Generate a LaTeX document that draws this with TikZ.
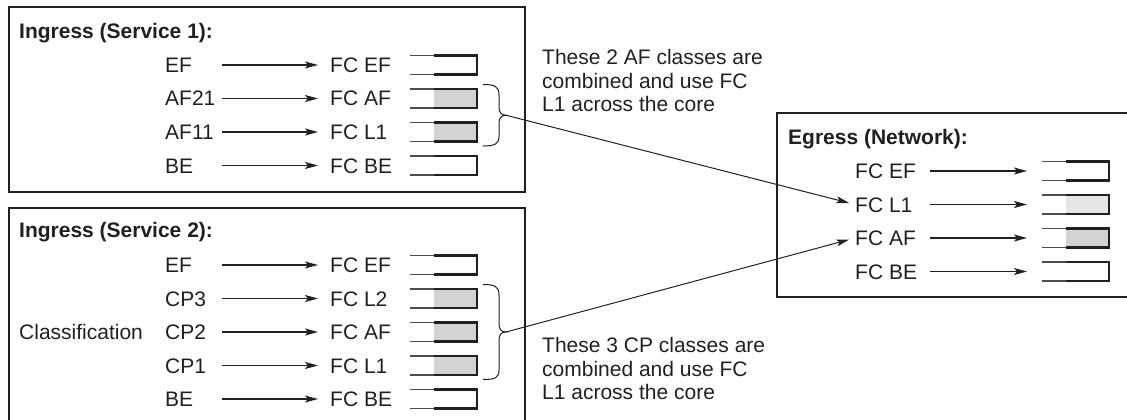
\documentclass[tikz,border=0pt]{standalone}
\usepackage{fontspec}
\setmainfont{Liberation Sans}
\usetikzlibrary{arrows.meta}
\definecolor{ink}{HTML}{231F20}
\definecolor{shadeA}{HTML}{D3D3D3}
\definecolor{shadeB}{HTML}{E6E6E6}
\tikzset{
  box/.style={draw=ink, line width=2pt},
  lbl/.style={inner sep=0pt, anchor=west, text=ink, font=\fontsize{21}{23.5}\selectfont, text height=15pt, text depth=0pt},
  ttl/.style={lbl, font=\fontsize{21}{23.5}\selectfont\bfseries},
  note/.style={inner sep=0pt, anchor=west, align=left, text=ink, font=\fontsize{21}{23.5}\selectfont},
  arr/.style={draw=ink, line width=1.1pt, -{Stealth[length=13pt,width=7pt,inset=3pt]}},
  link/.style={draw=ink, line width=1pt, -{Stealth[length=13pt,width=7pt,inset=3pt]}},
  bracestyle/.style={draw=ink, line width=1pt},
  pics/queue/.style={code={
    \fill[#1] (24,-9.5) rectangle (67,9.5);
    \draw[ink!80, line width=1.9pt] (0,-9.5) -- (24,-9.5) (0,9.5) -- (24,9.5);
    \draw[ink, line width=2.2pt, line join=miter] (24,-9.5) -- (67,-9.5) -- (67,9.5) -- (24,9.5);
  }},
}
\begin{document}
\begin{tikzpicture}[x=1pt, y=-1pt]
\useasboundingbox (0,0) rectangle (1127,420);
% boxes
\draw[box] (9,7) rectangle (525,192);
\draw[box] (9,421) -- (9,208) -- (525,208) -- (525,421);
\draw[box] (1128,297) -- (777,297) -- (777,113) -- (1128,113);

\coordinate (s1) at (222,0);
\coordinate (s2) at (930,0);
\coordinate (t2) at (1027,0);

% Ingress 1
\node[ttl] (t1) at (19,31) {Ingress (Service 1):};
\node[lbl] (a1) at (165,65) {EF};
\node[lbl] (a2) at (165,98.5) {AF21};
\node[lbl] (a3) at (165,132) {AF11};
\node[lbl] (a4) at (165,165.5) {BE};
\node[lbl] (f1) at (330,65) {FC EF};
\node[lbl] (f2) at (330,98.5) {FC AF};
\node[lbl] (f3) at (330,132) {FC L1};
\node[lbl] (f4) at (330,165.5) {FC BE};
\foreach \i in {1,...,4} \draw[arr, shorten >=12pt] (a\i -| s1) -- (f\i.west);
\pic at (410,65) {queue=white};
\pic at (410,98.5) {queue=shadeA};
\pic at (410,132) {queue=shadeA};
\pic at (410,165.5) {queue=white};

% Ingress 2
\node[ttl] (t2n) at (19,230) {Ingress (Service 2):};
\node[lbl] (cl) at (19,332) {Classification};
\node[lbl] (c1) at (165,265) {EF};
\node[lbl] (c2) at (165,298.5) {CP3};
\node[lbl] (c3) at (165,332) {CP2};
\node[lbl] (c4) at (165,365.5) {CP1};
\node[lbl] (c5) at (165,399) {BE};
\node[lbl] (g1) at (330,265) {FC EF};
\node[lbl] (g2) at (330,298.5) {FC L2};
\node[lbl] (g3) at (330,332) {FC AF};
\node[lbl] (g4) at (330,365.5) {FC L1};
\node[lbl] (g5) at (330,399) {FC BE};
\foreach \i in {1,...,5} \draw[arr, shorten >=12pt] (c\i -| s1) -- (g\i.west);
\pic at (410,265) {queue=white};
\pic at (410,298.5) {queue=shadeA};
\pic at (410,332) {queue=shadeA};
\pic at (410,365.5) {queue=shadeA};
\pic at (410,399) {queue=white};

% Egress
\node[ttl] (t3) at (788,137) {Egress (Network):};
\node[lbl] (e1) at (855,171) {FC EF};
\node[lbl] (e2) at (855,204.5) {FC L1};
\node[lbl] (e3) at (855,238) {FC AF};
\node[lbl] (e4) at (855,271.5) {FC BE};
\foreach \i in {1,...,4} \draw[arr] (e\i -| s2) -- (e\i -| t2);
\pic at (1042,171) {queue=white};
\pic at (1042,204.5) {queue=shadeB};
\pic at (1042,238) {queue=shadeA};
\pic at (1042,271.5) {queue=white};

% braces
\draw[bracestyle] (483,84.5) .. controls (495,84.5) and (499,86.5) .. (499,95) -- (499,107)
  .. controls (499,112) and (501,115.25) .. (506,115.25)
  .. controls (501,115.25) and (499,118.5) .. (499,123.5) -- (499,136)
  .. controls (499,144) and (495,146) .. (483,146);
\coordinate (b1) at (506,115.25);
\draw[bracestyle] (483,284.5) .. controls (495,284.5) and (499,286.5) .. (499,295) -- (499,324)
  .. controls (499,329) and (501,332) .. (506,332)
  .. controls (501,332) and (499,335) .. (499,340) -- (499,370)
  .. controls (499,378) and (495,379.5) .. (483,379.5);
\coordinate (b2) at (506,332);
\draw[link, shorten >=6pt] (b1) -- (e2.west);
\draw[link, shorten >=6pt] (b2) -- (e3.west);

% notes
\node[note] (n1) at (542,80.5) {These 2 AF classes are\\combined and use FC\\L1 across the core};
\node[note] (n2) at (542,368.5) {These 3 CP classes are\\combined and use FC\\L1 across the core};
\end{tikzpicture}
\end{document}
